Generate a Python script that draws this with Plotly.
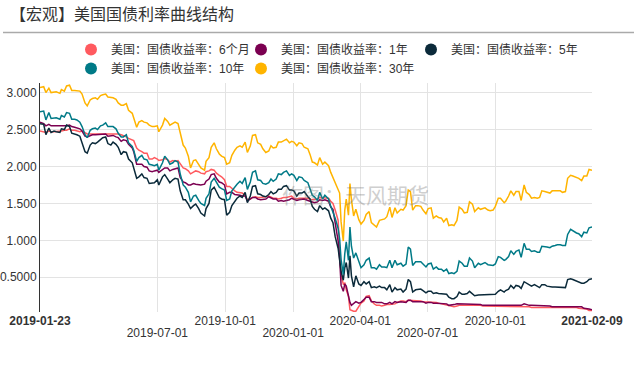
import plotly.graph_objects as go

dates = [
    "2019-01-23", "2019-01-28", "2019-01-31",
    "2019-02-04", "2019-02-07", "2019-02-11", "2019-02-14", "2019-02-19", "2019-02-21", "2019-02-25", "2019-02-28",
    "2019-03-04", "2019-03-07", "2019-03-11", "2019-03-14", "2019-03-18", "2019-03-21", "2019-03-25", "2019-03-28",
    "2019-04-01", "2019-04-04", "2019-04-08", "2019-04-11", "2019-04-15", "2019-04-18", "2019-04-22", "2019-04-25", "2019-04-29",
    "2019-05-02", "2019-05-06", "2019-05-09", "2019-05-13", "2019-05-16", "2019-05-20", "2019-05-23", "2019-05-28", "2019-05-30",
    "2019-06-03", "2019-06-06", "2019-06-10", "2019-06-13", "2019-06-17", "2019-06-20", "2019-06-24", "2019-06-27",
    "2019-07-01", "2019-07-03", "2019-07-08", "2019-07-11", "2019-07-15", "2019-07-18", "2019-07-22", "2019-07-25", "2019-07-29",
    "2019-08-01", "2019-08-05", "2019-08-08", "2019-08-12", "2019-08-15", "2019-08-19", "2019-08-22", "2019-08-26", "2019-08-29",
    "2019-09-03", "2019-09-05", "2019-09-09", "2019-09-12", "2019-09-16", "2019-09-19", "2019-09-23", "2019-09-26", "2019-09-30",
    "2019-10-03", "2019-10-07", "2019-10-10", "2019-10-14", "2019-10-17", "2019-10-21", "2019-10-24", "2019-10-28", "2019-10-31",
    "2019-11-04", "2019-11-07", "2019-11-11", "2019-11-14", "2019-11-18", "2019-11-21", "2019-11-25", "2019-11-29",
    "2019-12-02", "2019-12-05", "2019-12-09", "2019-12-12", "2019-12-16", "2019-12-19", "2019-12-23", "2019-12-27", "2019-12-30",
    "2020-01-02", "2020-01-06", "2020-01-09", "2020-01-13", "2020-01-16", "2020-01-21", "2020-01-24", "2020-01-27", "2020-01-30",
    "2020-02-03", "2020-02-06", "2020-02-10", "2020-02-13", "2020-02-18", "2020-02-21", "2020-02-24", "2020-02-27",
    "2020-03-02", "2020-03-04", "2020-03-06", "2020-03-09", "2020-03-11", "2020-03-13", "2020-03-16", "2020-03-18", "2020-03-20", "2020-03-23", "2020-03-26", "2020-03-30",
    "2020-04-02", "2020-04-06", "2020-04-09", "2020-04-13", "2020-04-16", "2020-04-20", "2020-04-23", "2020-04-27", "2020-04-30",
    "2020-05-04", "2020-05-07", "2020-05-11", "2020-05-14", "2020-05-18", "2020-05-21", "2020-05-26", "2020-05-29",
    "2020-06-02", "2020-06-05", "2020-06-08", "2020-06-11", "2020-06-15", "2020-06-18", "2020-06-22", "2020-06-25", "2020-06-29",
    "2020-07-02", "2020-07-06", "2020-07-09", "2020-07-13", "2020-07-16", "2020-07-20", "2020-07-23", "2020-07-27", "2020-07-30",
    "2020-08-03", "2020-08-06", "2020-08-10", "2020-08-13", "2020-08-17", "2020-08-20", "2020-08-24", "2020-08-27", "2020-08-31",
    "2020-09-03", "2020-09-08", "2020-09-11", "2020-09-14", "2020-09-17", "2020-09-21", "2020-09-24", "2020-09-28",
    "2020-10-01", "2020-10-05", "2020-10-08", "2020-10-13", "2020-10-15", "2020-10-19", "2020-10-22", "2020-10-26", "2020-10-29",
    "2020-11-02", "2020-11-05", "2020-11-09", "2020-11-12", "2020-11-16", "2020-11-19", "2020-11-23", "2020-11-27", "2020-11-30",
    "2020-12-03", "2020-12-07", "2020-12-10", "2020-12-14", "2020-12-17", "2020-12-21", "2020-12-24", "2020-12-28", "2020-12-31",
    "2021-01-04", "2021-01-07", "2021-01-11", "2021-01-14", "2021-01-19", "2021-01-22", "2021-01-26", "2021-01-29",
    "2021-02-02", "2021-02-05", "2021-02-09",
]

y_6m = [
    2.48, 2.47, 2.46,
    2.48, 2.47, 2.47, 2.47, 2.48, 2.48, 2.49, 2.49,
    2.51, 2.49, 2.49, 2.48, 2.47, 2.48, 2.46, 2.44,
    2.44, 2.44, 2.45, 2.45, 2.44, 2.45, 2.45, 2.44, 2.45,
    2.45, 2.44, 2.44, 2.43, 2.42, 2.40, 2.38, 2.36, 2.35,
    2.25, 2.22, 2.20, 2.18, 2.18, 2.10, 2.10, 2.12,
    2.10, 2.08, 2.09, 2.11, 2.09, 2.06, 2.08, 2.07, 2.08,
    2.03, 1.98, 1.97, 1.94, 1.90, 1.92, 1.94, 1.93, 1.91,
    1.90, 1.93, 1.94, 1.96, 1.95, 1.91, 1.88, 1.86, 1.82,
    1.73, 1.73, 1.70, 1.67, 1.65, 1.65, 1.64, 1.61, 1.55,
    1.56, 1.58, 1.59, 1.58, 1.58, 1.58, 1.59, 1.60,
    1.58, 1.57, 1.57, 1.56, 1.57, 1.58, 1.58, 1.59, 1.60,
    1.57, 1.56, 1.57, 1.57, 1.57, 1.57, 1.55, 1.55, 1.56,
    1.56, 1.58, 1.58, 1.58, 1.57, 1.53, 1.50, 1.41,
    1.27, 0.88, 0.52, 0.41, 0.42, 0.33, 0.24, 0.06, 0.05, 0.04, 0.04, 0.10,
    0.15, 0.18, 0.24, 0.25, 0.18, 0.14, 0.12, 0.12, 0.11,
    0.12, 0.13, 0.13, 0.13, 0.14, 0.16, 0.18, 0.18,
    0.17, 0.19, 0.19, 0.19, 0.18, 0.18, 0.18, 0.17, 0.17,
    0.16, 0.16, 0.16, 0.16, 0.15, 0.14, 0.13, 0.12, 0.11,
    0.11, 0.10, 0.11, 0.12, 0.12, 0.12, 0.12, 0.13, 0.12,
    0.12, 0.12, 0.12, 0.11, 0.11, 0.11, 0.11, 0.11,
    0.10, 0.10, 0.11, 0.11, 0.11, 0.11, 0.11, 0.11, 0.11,
    0.11, 0.11, 0.11, 0.10, 0.10, 0.09, 0.09, 0.09, 0.09,
    0.09, 0.09, 0.09, 0.09, 0.09, 0.09, 0.09, 0.10, 0.09,
    0.09, 0.09, 0.09, 0.09, 0.09, 0.08, 0.08, 0.07,
    0.07, 0.05, 0.05,
]

y_1y = [
    2.60, 2.58, 2.55,
    2.57, 2.55, 2.55, 2.54, 2.55, 2.55, 2.55, 2.55,
    2.56, 2.54, 2.53, 2.52, 2.51, 2.48, 2.41, 2.40,
    2.42, 2.43, 2.43, 2.43, 2.43, 2.44, 2.44, 2.41, 2.42,
    2.42, 2.40, 2.39, 2.34, 2.36, 2.35, 2.30, 2.25, 2.20,
    2.03, 2.03, 2.03, 2.00, 1.99, 1.94, 1.93, 1.94,
    1.95, 1.92, 1.96, 1.98, 1.98, 1.94, 1.96, 1.97, 1.98,
    1.85, 1.79, 1.78, 1.75, 1.75, 1.77, 1.76, 1.75, 1.75,
    1.76, 1.80, 1.83, 1.89, 1.90, 1.84, 1.79, 1.78, 1.75,
    1.63, 1.65, 1.65, 1.62, 1.62, 1.61, 1.60, 1.60, 1.53,
    1.56, 1.58, 1.58, 1.56, 1.55, 1.55, 1.56, 1.59,
    1.57, 1.56, 1.56, 1.53, 1.54, 1.53, 1.54, 1.55, 1.57,
    1.56, 1.54, 1.55, 1.55, 1.56, 1.54, 1.53, 1.51, 1.51,
    1.52, 1.55, 1.54, 1.55, 1.53, 1.45, 1.42, 1.25,
    0.99, 0.76, 0.39, 0.31, 0.41, 0.38, 0.23, 0.16, 0.12, 0.15, 0.17, 0.15,
    0.16, 0.20, 0.23, 0.23, 0.17, 0.17, 0.16, 0.16, 0.16,
    0.14, 0.14, 0.16, 0.14, 0.17, 0.16, 0.17, 0.17,
    0.16, 0.19, 0.19, 0.17, 0.17, 0.18, 0.18, 0.17, 0.15,
    0.16, 0.16, 0.15, 0.15, 0.15, 0.15, 0.14, 0.14, 0.12,
    0.12, 0.13, 0.14, 0.14, 0.14, 0.13, 0.14, 0.14, 0.13,
    0.13, 0.13, 0.13, 0.12, 0.12, 0.12, 0.12, 0.12,
    0.12, 0.12, 0.13, 0.13, 0.12, 0.13, 0.13, 0.13, 0.13,
    0.13, 0.12, 0.14, 0.13, 0.12, 0.12, 0.12, 0.12, 0.12,
    0.12, 0.12, 0.11, 0.11, 0.10, 0.10, 0.10, 0.11, 0.10,
    0.10, 0.11, 0.11, 0.10, 0.10, 0.10, 0.10, 0.08,
    0.08, 0.07, 0.06,
]

y_5y = [
    2.58, 2.57, 2.43,
    2.52, 2.46, 2.48, 2.47, 2.46, 2.51, 2.50, 2.56,
    2.54, 2.45, 2.44, 2.43, 2.41, 2.32, 2.20, 2.18,
    2.29, 2.32, 2.31, 2.33, 2.37, 2.39, 2.40, 2.31, 2.29,
    2.33, 2.30, 2.26, 2.16, 2.20, 2.19, 2.10, 2.05, 1.97,
    1.84, 1.86, 1.90, 1.85, 1.84, 1.77, 1.77, 1.78,
    1.82, 1.75, 1.86, 1.89, 1.83, 1.78, 1.82, 1.84, 1.83,
    1.67, 1.55, 1.55, 1.49, 1.43, 1.47, 1.49, 1.43, 1.37,
    1.33, 1.43, 1.50, 1.68, 1.72, 1.66, 1.58, 1.56, 1.55,
    1.34, 1.38, 1.47, 1.52, 1.57, 1.60, 1.58, 1.65, 1.51,
    1.60, 1.73, 1.74, 1.63, 1.62, 1.60, 1.59, 1.62,
    1.66, 1.63, 1.65, 1.69, 1.69, 1.73, 1.74, 1.68, 1.68,
    1.67, 1.60, 1.64, 1.64, 1.66, 1.59, 1.56, 1.46, 1.42,
    1.39, 1.47, 1.42, 1.44, 1.40, 1.30, 1.24, 1.05,
    0.89, 0.69, 0.58, 0.46, 0.63, 0.70, 0.49, 0.79, 0.52, 0.37, 0.52, 0.41,
    0.39, 0.44, 0.41, 0.44, 0.36, 0.37, 0.36, 0.38, 0.36,
    0.36, 0.33, 0.40, 0.30, 0.36, 0.33, 0.34, 0.30,
    0.34, 0.47, 0.44, 0.30, 0.33, 0.33, 0.34, 0.32, 0.29,
    0.31, 0.31, 0.28, 0.29, 0.28, 0.28, 0.27, 0.27, 0.23,
    0.21, 0.21, 0.24, 0.30, 0.27, 0.27, 0.28, 0.31, 0.27,
    0.25, 0.26, 0.26, 0.26, 0.27, 0.27, 0.27, 0.27,
    0.27, 0.31, 0.33, 0.30, 0.32, 0.34, 0.39, 0.35, 0.39,
    0.38, 0.35, 0.44, 0.42, 0.40, 0.38, 0.40, 0.38, 0.36,
    0.40, 0.40, 0.38, 0.37, 0.37, 0.37, 0.37, 0.37, 0.36,
    0.36, 0.47, 0.48, 0.47, 0.45, 0.43, 0.42, 0.42,
    0.44, 0.47, 0.48,
]

y_10y = [
    2.74, 2.75, 2.63,
    2.73, 2.65, 2.66, 2.66, 2.64, 2.69, 2.67, 2.73,
    2.72, 2.64, 2.64, 2.63, 2.60, 2.54, 2.43, 2.39,
    2.49, 2.51, 2.52, 2.50, 2.55, 2.56, 2.59, 2.54, 2.54,
    2.54, 2.51, 2.45, 2.40, 2.40, 2.43, 2.32, 2.27, 2.22,
    2.07, 2.12, 2.15, 2.10, 2.09, 2.03, 2.02, 2.01,
    2.03, 1.95, 2.05, 2.14, 2.09, 2.03, 2.05, 2.08, 2.06,
    1.90, 1.75, 1.72, 1.65, 1.52, 1.60, 1.61, 1.54, 1.50,
    1.47, 1.57, 1.63, 1.79, 1.84, 1.79, 1.72, 1.70, 1.68,
    1.54, 1.56, 1.67, 1.73, 1.76, 1.80, 1.77, 1.85, 1.69,
    1.79, 1.92, 1.94, 1.82, 1.81, 1.77, 1.76, 1.78,
    1.83, 1.80, 1.83, 1.90, 1.89, 1.92, 1.94, 1.88, 1.90,
    1.88, 1.81, 1.86, 1.85, 1.81, 1.78, 1.70, 1.61, 1.59,
    1.54, 1.65, 1.56, 1.61, 1.56, 1.46, 1.38, 1.30,
    1.16, 1.02, 0.74, 0.54, 0.82, 0.98, 0.73, 1.18, 0.92, 0.76, 0.83, 0.70,
    0.63, 0.67, 0.73, 0.76, 0.63, 0.63, 0.61, 0.67, 0.64,
    0.64, 0.63, 0.73, 0.63, 0.73, 0.67, 0.69, 0.65,
    0.68, 0.91, 0.88, 0.66, 0.71, 0.71, 0.71, 0.68, 0.64,
    0.68, 0.69, 0.61, 0.64, 0.61, 0.61, 0.58, 0.61, 0.55,
    0.56, 0.55, 0.58, 0.72, 0.69, 0.65, 0.65, 0.76, 0.72,
    0.63, 0.69, 0.67, 0.68, 0.70, 0.67, 0.67, 0.66,
    0.68, 0.78, 0.77, 0.73, 0.74, 0.78, 0.86, 0.81, 0.85,
    0.87, 0.77, 0.96, 0.88, 0.88, 0.85, 0.86, 0.84, 0.84,
    0.92, 0.92, 0.91, 0.90, 0.92, 0.93, 0.94, 0.94, 0.93,
    0.93, 1.08, 1.15, 1.13, 1.10, 1.09, 1.05, 1.11,
    1.10, 1.17, 1.18,
]

y_30y = [
    3.07, 3.08, 3.00,
    3.06, 3.00, 3.01, 3.01, 2.99, 3.04, 3.02, 3.09,
    3.10, 3.03, 3.03, 3.03, 3.02, 2.98, 2.86, 2.82,
    2.90, 2.92, 2.93, 2.91, 2.96, 2.97, 2.98, 2.94, 2.94,
    2.93, 2.91, 2.86, 2.83, 2.83, 2.85, 2.76, 2.72, 2.66,
    2.53, 2.60, 2.62, 2.60, 2.59, 2.56, 2.54, 2.54,
    2.55, 2.47, 2.56, 2.65, 2.61, 2.56, 2.58, 2.60, 2.58,
    2.44, 2.29, 2.25, 2.14, 1.98, 2.08, 2.09, 2.03, 1.98,
    1.95, 2.07, 2.12, 2.26, 2.32, 2.24, 2.17, 2.14, 2.12,
    2.03, 2.05, 2.15, 2.22, 2.26, 2.28, 2.26, 2.33, 2.19,
    2.28, 2.42, 2.43, 2.32, 2.30, 2.24, 2.19, 2.21,
    2.28, 2.25, 2.26, 2.33, 2.33, 2.35, 2.37, 2.32, 2.34,
    2.33, 2.28, 2.32, 2.31, 2.26, 2.24, 2.16, 2.06, 2.05,
    2.02, 2.12, 2.03, 2.06, 2.01, 1.92, 1.85, 1.77,
    1.67, 1.64, 1.25, 0.99, 1.41, 1.56, 1.34, 1.77, 1.55, 1.33, 1.42, 1.28,
    1.22, 1.27, 1.35, 1.39, 1.24, 1.21, 1.18, 1.27, 1.28,
    1.29, 1.32, 1.45, 1.31, 1.44, 1.37, 1.42, 1.41,
    1.47, 1.68, 1.66, 1.41, 1.47, 1.47, 1.46, 1.41, 1.36,
    1.43, 1.44, 1.30, 1.33, 1.31, 1.30, 1.25, 1.30, 1.20,
    1.21, 1.20, 1.27, 1.45, 1.42, 1.37, 1.38, 1.52, 1.49,
    1.39, 1.44, 1.42, 1.43, 1.44, 1.41, 1.40, 1.41,
    1.46, 1.57, 1.57, 1.51, 1.53, 1.60, 1.67, 1.61, 1.66,
    1.66, 1.54, 1.75, 1.65, 1.62, 1.57, 1.58, 1.57, 1.58,
    1.67, 1.66, 1.65, 1.64, 1.67, 1.67, 1.67, 1.67, 1.65,
    1.66, 1.84, 1.88, 1.87, 1.85, 1.84, 1.81, 1.87,
    1.87, 1.96, 1.95,
]

series_names = ["美国：国债收益率：6个月", "美国：国债收益率：1年", "美国：国债收益率：5年",
                "美国：国债收益率：10年", "美国：国债收益率：30年"]
series_values = [y_6m, y_1y, y_5y, y_10y, y_30y]
series_colors = ["#FF5A5F", "#7B0051", "#0B2A3A", "#007A87", "#FFB400"]
for vals in series_values:
    assert len(vals) == len(dates), (len(vals), len(dates))

grid_dates = ["2019-07-01", "2019-10-01", "2020-01-01", "2020-04-01", "2020-07-01", "2020-10-01"]
upper_dates = ["2019-01-23", "2019-10-01", "2020-04-01", "2020-10-01", "2021-02-09"]
upper_text = ["<b>2019-01-23</b>", "2019-10-01", "2020-04-01", "2020-10-01", "<b>2021-02-09</b>"]
lower_dates = ["2019-07-01", "2020-01-01", "2020-07-01"]
lower_text = ["2019-07-01", "2020-01-01", "2020-07-01"]
y_tickvals = [0.5, 1.0, 1.5, 2.0, 2.5, 3.0]
y_ticktext = ["0.5000", "1.000", "1.500", "2.000", "2.500", "3.000"]

FONT = "Liberation Sans, Arial, Noto Sans CJK SC, sans-serif"

fig = go.Figure()
for name, vals, color in zip(series_names, series_values, series_colors):
    fig.add_trace(go.Scatter(x=dates, y=vals, mode="lines", name=name,
                             line=dict(color=color, width=1.5), showlegend=False,
                             xaxis="x", yaxis="y", hoverinfo="skip"))
for name, color in zip(series_names, series_colors):
    fig.add_trace(go.Scatter(x=[None], y=[None], mode="markers", name=name,
                             marker=dict(color=color, size=13), showlegend=True,
                             xaxis="x2", yaxis="y"))
fig.add_trace(go.Scatter(x=[None], y=[None], mode="markers", showlegend=False,
                         xaxis="x3", yaxis="y", hoverinfo="skip"))

x_range = ["2019-01-23", "2021-02-09"]
label_axis = dict(type="date", range=x_range, overlaying="x", anchor="y", side="bottom",
                  tickmode="array", tickangle=0, showgrid=False, zeroline=False, automargin=False,
                  showline=False, ticks="", tickfont=dict(size=12, color="#333333", family=FONT))
fig.update_layout(
    width=637, height=369,
    margin=dict(l=40, r=45, t=83, b=57, autoexpand=False),
    paper_bgcolor="white", plot_bgcolor="white",
    font=dict(family=FONT, size=12, color="#333333"),
    title=dict(text="【宏观】美国国债利率曲线结构", font=dict(size=16, color="#333333", family=FONT),
               xref="container", yref="container", x=10 / 637, xanchor="left",
               y=1 - 14 / 369, yanchor="middle"),
    xaxis=dict(type="date", range=x_range, tickmode="array", tickvals=grid_dates,
               showticklabels=False, showgrid=True, gridcolor="#e3e3e3", gridwidth=1,
               zeroline=False, showline=False, ticks="", automargin=False),
    xaxis2=dict(label_axis, tickvals=upper_dates, ticktext=upper_text),
    xaxis3=dict(label_axis, tickvals=lower_dates, ticktext=lower_text, ticklabelstandoff=12),
    yaxis=dict(range=[0.03, 3.13], tickmode="array", tickvals=y_tickvals, ticktext=y_ticktext,
               showgrid=True, gridcolor="#e3e3e3", gridwidth=1, zeroline=False,
               showline=True, linecolor="#333333", linewidth=1, ticks="", automargin=False,
               tickfont=dict(size=12, color="#333333", family=FONT)),
    legend=dict(orientation="h", x=(71 - 40) / 552, xanchor="left", y=(312 - 35) / 229, yanchor="top",
                entrywidth=125, entrywidthmode="pixels", itemsizing="constant",
                font=dict(size=12, color="#333333", family=FONT), bgcolor="rgba(0,0,0,0)",
                tracegroupgap=0),
    shapes=[dict(type="line", xref="paper", yref="paper", x0=(3 - 40) / 552, x1=(634 - 40) / 552,
                 y0=(312 - 32.5) / 229, y1=(312 - 32.5) / 229, line=dict(color="#aaaaaa", width=1.5))],
    annotations=[dict(text="作图：天风期货", xref="paper", yref="paper", x=(355 - 40) / 552,
                      y=(312 - 194) / 229, showarrow=False, opacity=0.35,
                      font=dict(size=21, color="#777777", family="Noto Sans CJK SC, sans-serif"))],
)

fig.write_html("out.html", config={"displayModeBar": False},
               post_script="document.body.style.margin='0';")
